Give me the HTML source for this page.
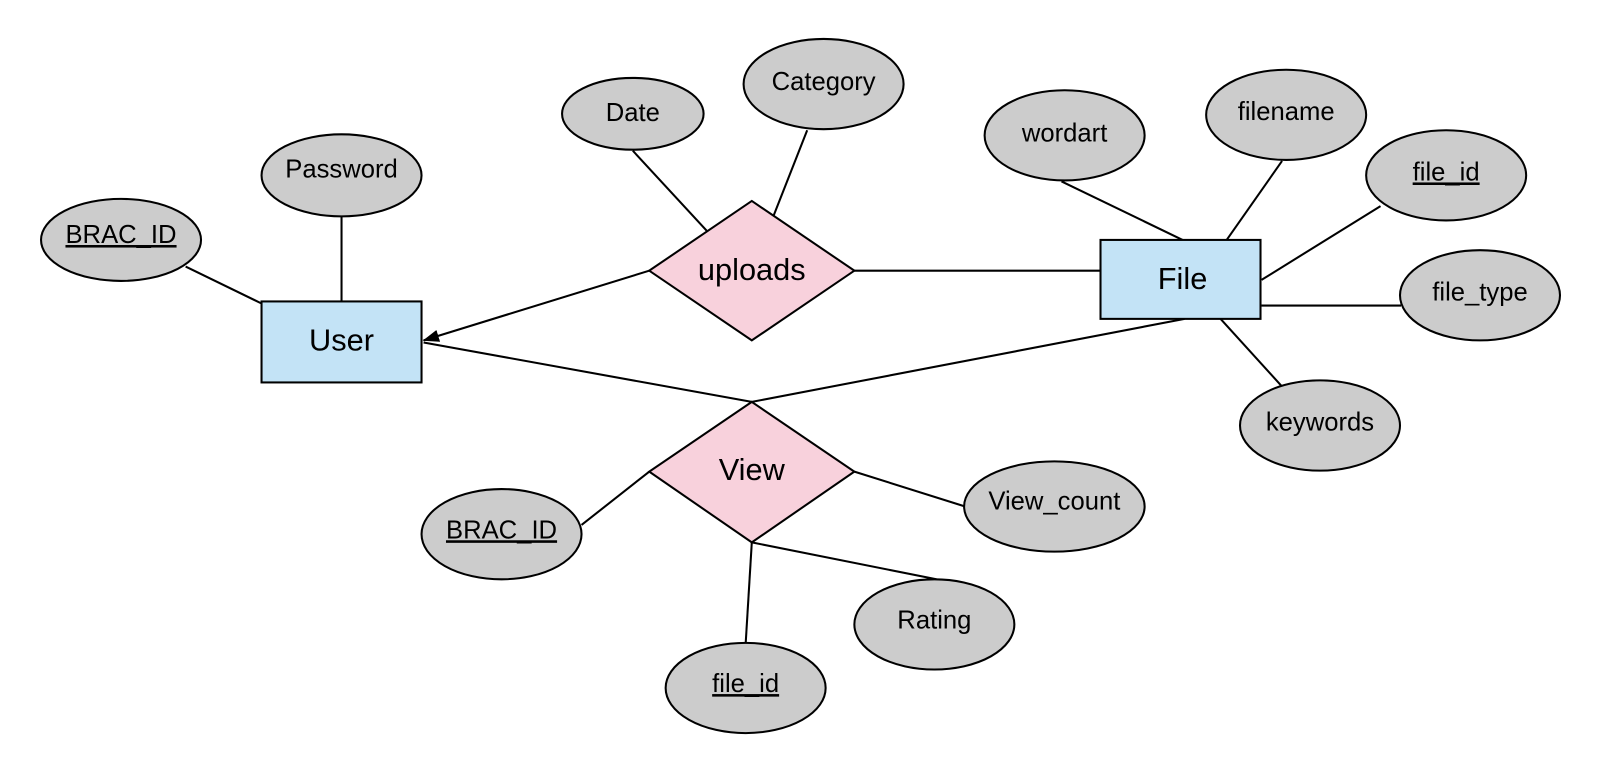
<!DOCTYPE html>
<html><head><style>html,body{margin:0;padding:0;background:#fff}svg{display:block}</style></head>
<body>
<svg width="1600" height="770" viewBox="0 0 1560 751" preserveAspectRatio="none" xmlns="http://www.w3.org/2000/svg" font-family="Liberation Sans, sans-serif">
<defs><marker id="a" markerWidth="16" markerHeight="12" refX="15" refY="6" orient="auto" markerUnits="userSpaceOnUse"><path d="M0,0 L16,6 L0,12 z" fill="#000"/></marker></defs>
<g stroke="#000" stroke-width="2" fill="none">
<line x1="181" y1="260" x2="255" y2="296"/>
<line x1="333" y1="211" x2="333" y2="294"/>
<line x1="617" y1="147" x2="689" y2="225"/>
<line x1="787" y1="127" x2="754" y2="211"/>
<line x1="633" y1="264" x2="413" y2="332" marker-end="url(#a)"/>
<line x1="833" y1="264" x2="1073" y2="264"/>
<line x1="1153" y1="234" x2="1035" y2="177"/>
<line x1="1196" y1="234" x2="1250" y2="157"/>
<line x1="1230" y1="273" x2="1346" y2="201"/>
<line x1="1230" y1="298" x2="1366" y2="298"/>
<line x1="1190" y1="311" x2="1250" y2="377"/>
<line x1="413" y1="334" x2="733" y2="392"/>
<line x1="1155" y1="311" x2="733" y2="392"/>
<line x1="633" y1="460" x2="567" y2="512"/>
<line x1="833" y1="460" x2="941" y2="494"/>
<line x1="733" y1="529" x2="727" y2="628"/>
<line x1="733" y1="529" x2="913" y2="565"/>
</g>
<g stroke="#000" stroke-width="2" fill="#cccccc">
<ellipse cx="118" cy="234" rx="78" ry="40"/>
<ellipse cx="333" cy="171" rx="78" ry="40"/>
<ellipse cx="617" cy="111" rx="69" ry="35"/>
<ellipse cx="803" cy="82" rx="78" ry="44"/>
<ellipse cx="1038" cy="132" rx="78" ry="44"/>
<ellipse cx="1254" cy="112" rx="78" ry="44"/>
<ellipse cx="1410" cy="171" rx="78" ry="44"/>
<ellipse cx="1443" cy="288" rx="78" ry="44"/>
<ellipse cx="1287" cy="415" rx="78" ry="44"/>
<ellipse cx="1028" cy="494" rx="88" ry="44"/>
<ellipse cx="489" cy="521" rx="78" ry="44"/>
<ellipse cx="911" cy="609" rx="78" ry="44"/>
<ellipse cx="727" cy="671" rx="78" ry="44"/>
</g>
<g stroke="#000" stroke-width="2">
<rect x="255" y="294" width="156" height="79" fill="#c3e3f6"/>
<rect x="1073" y="234" width="156" height="77" fill="#c3e3f6"/>
<polygon points="733,196 833,264 733,332 633,264" fill="#f8d1dc"/>
<polygon points="733,392 833,460 733,529 633,460" fill="#f8d1dc"/>
</g>
<g font-size="25" text-anchor="middle" fill="#000">
<text x="118" y="237" text-decoration="underline">BRAC_ID</text>
<text x="333" y="173">Password</text>
<text x="617" y="118">Date</text>
<text x="803" y="88">Category</text>
<text x="1038" y="138">wordart</text>
<text x="1254" y="117">filename</text>
<text x="1410" y="176" text-decoration="underline">file_id</text>
<text x="1443" y="293">file_type</text>
<text x="1287" y="420">keywords</text>
<text x="1028" y="497">View_count</text>
<text x="489" y="525" text-decoration="underline">BRAC_ID</text>
<text x="911" y="613">Rating</text>
<text x="727" y="675" text-decoration="underline">file_id</text>
</g>
<g font-size="30" text-anchor="middle" fill="#000">
<text x="333" y="342">User</text>
<text x="1153" y="282">File</text>
<text x="733" y="273">uploads</text>
<text x="733" y="468">View</text>
</g>
</svg>
</body></html>
